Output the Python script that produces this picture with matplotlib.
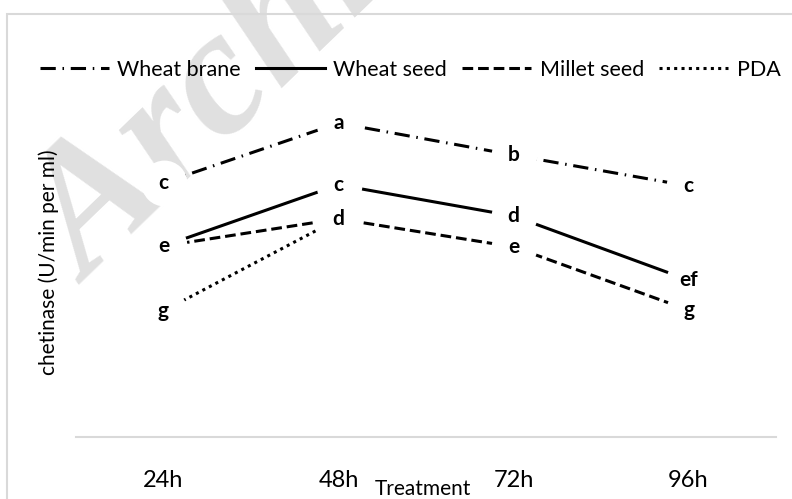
import numpy as np
import matplotlib
matplotlib.use("Agg")
import matplotlib.pyplot as plt
from matplotlib.patches import Rectangle

# data (arbitrary enzyme units, no y scale shown)
treatments = ["24h", "48h", "72h", "96h"]
wheat_brane = [8.97, 11.08, 9.95, 8.86]
wheat_seed = [6.74, 8.90, 7.80, 5.54]
millet_seed = [6.74, 7.70, 6.71, 4.48]
pda = [4.45, 7.70, np.nan, np.nan]

brane_letters = ["c", "a", "b", "c"]
wseed_letters = ["e", "c", "d", "ef"]
millet_letters = [None, "d", "e", "g"]
pda_letters = ["g", None, None, None]

plt.rcParams['font.family'] = ['Lato', 'DejaVu Sans']

fig = plt.figure(figsize=(7.92, 4.99), dpi=100)

# watermark + frame
fig.text(88 / 792, 1 - 285 / 499, "Archive of SID", fontsize=130, color="#e0e0e0",
         rotation=44, rotation_mode="anchor", family="Liberation Serif",
         weight="bold", style="italic", zorder=-1)
fig.patches.append(Rectangle((7 / 792, -0.1), 1.2, (499 - 14) / 499 + 0.1,
                             transform=fig.transFigure, fill=False,
                             edgecolor="#d9d9d9", lw=1.5, zorder=1))

ax = fig.add_axes([76 / 792, 62 / 499, 700 / 792, 340 / 499])
ax.patch.set_visible(False)
x = np.arange(len(treatments))

series = [
    ("Wheat brane", wheat_brane, brane_letters, (0, (5, 2.2, 0.5, 2.2))),
    ("Wheat seed", wheat_seed, wseed_letters, "-"),
    ("Millet seed", millet_seed, millet_letters, (0, (3.5, 1.6))),
    ("PDA", pda, pda_letters, (0, (1, 1.4))),
]

for name, vals, letters, ls in series:
    ax.plot(x, vals, color="black", lw=2.2, linestyle=ls, label=name, zorder=2)
    # white disc so the line stops short of the letter
    ax.plot(x, vals, linestyle="none", marker="o", markersize=33,
            markerfacecolor="white", markeredgecolor="none", zorder=3)
    for xi, v, lt in zip(x, vals, letters):
        if lt:
            ax.text(xi, v, lt, ha="center", va="center", fontsize=15,
                    weight="bold", zorder=4)

ax.set_xlim(-0.5, 3.5)
ax.set_ylim(0, 12)
ax.set_xticks(x)
ax.set_xticklabels(treatments, fontsize=17)
ax.set_yticks([])
ax.tick_params(axis="x", length=0, pad=24)
for s in ["top", "right", "left"]:
    ax.spines[s].set_visible(False)
ax.spines["bottom"].set_color("#d9d9d9")
ax.spines["bottom"].set_linewidth(1.5)

fig.text(423 / 792, 1 - 489 / 499, "Treatment", ha="center", va="center", fontsize=15)
fig.text(49 / 792, 1 - 262 / 499, "chetinase (U/min per ml)", ha="center", va="center",
         rotation=90, fontsize=15)

fig.legend(loc="center", bbox_to_anchor=(410 / 792, 1 - 70 / 499), ncol=4,
           frameon=False, fontsize=15.5, handlelength=3.2, handletextpad=0.4,
           columnspacing=0.7)

fig.savefig("out.png", dpi=100)
